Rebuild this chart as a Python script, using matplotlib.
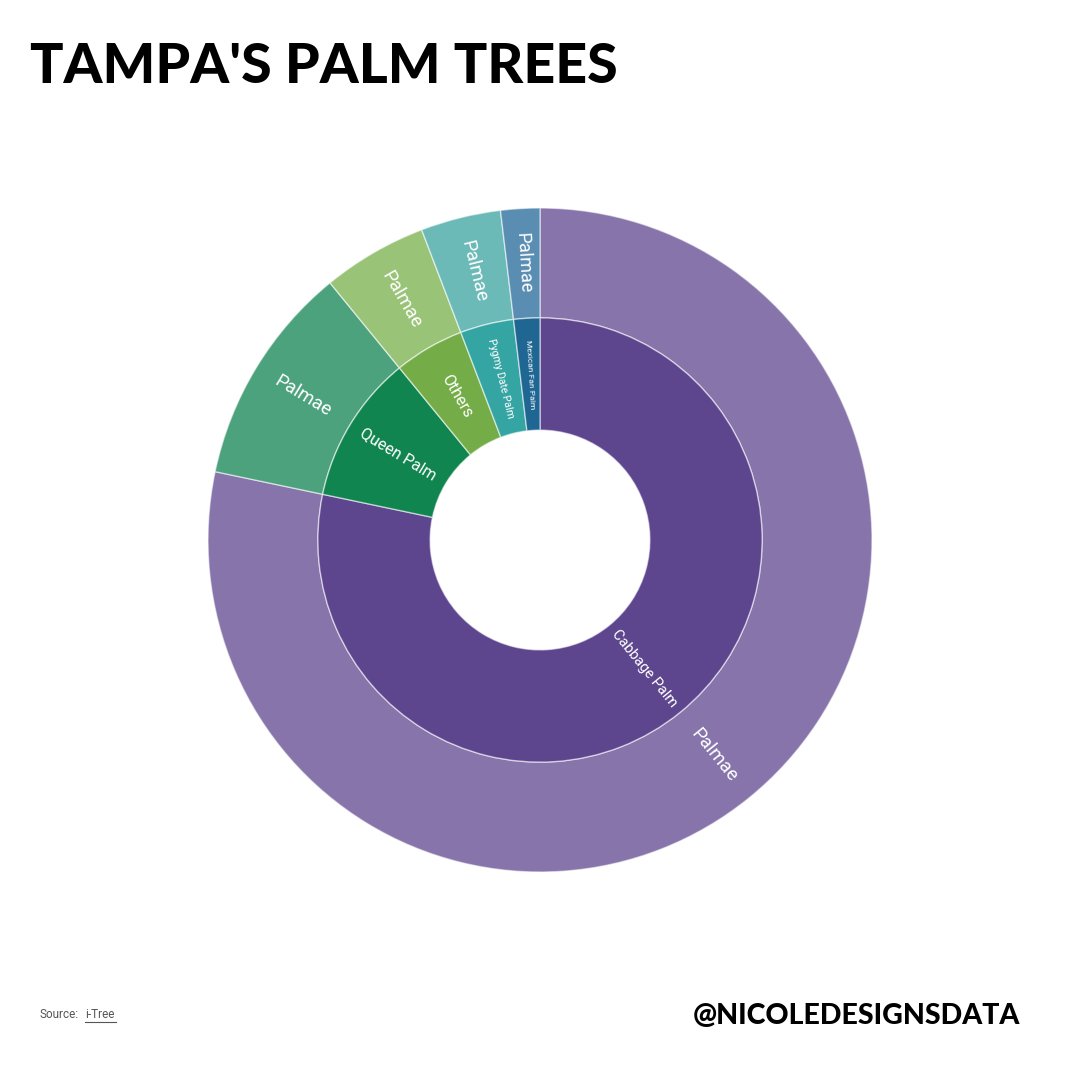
import numpy as np
import matplotlib
matplotlib.use("Agg")
import matplotlib.pyplot as plt

# data (share of palm trees, %)
species = ["Cabbage Palm", "Queen Palm", "Others", "Pygmy Date Palm", "Mexican Fan Palm"]
share = [78.3, 10.8, 5.1, 3.9, 1.9]
family = ["Palmae", "Palmae", "Palmae", "Palmae", "Palmae"]

inner_colors = ["#5e468f", "#10854f", "#74ad47", "#34a5a3", "#1f6692"]
outer_colors = ["#8774ab", "#4ca27c", "#99c377", "#6bbab8", "#5a8db2"]
inner_sizes = [10.5, 11.5, 11.5, 7.5, 6]
outer_sizes = [13.5, 13.5, 13.5, 13.5, 13]

fig = plt.figure(figsize=(10.8, 10.8), dpi=100)
fig.patch.set_facecolor("white")

ax = fig.add_axes([208 / 1080, 208 / 1080, 664 / 1080, 664 / 1080])

r_hole, r_mid, r_out = 0.331, 0.669, 1.0
edge = dict(edgecolor=(1, 1, 1, 0.55), linewidth=1)

ax.pie(share, radius=r_out, colors=outer_colors, startangle=90, counterclock=False,
       wedgeprops=dict(width=r_out - r_mid, **edge))
ax.pie(share, radius=r_mid, colors=inner_colors, startangle=90, counterclock=False,
       wedgeprops=dict(width=r_mid - r_hole, **edge))
ax.set_xlim(-1, 1)
ax.set_ylim(-1, 1)
ax.set_aspect("equal")
ax.axis("off")


def radial_label(text, frac_mid, r, size):
    theta = 90 - frac_mid * 360
    t = np.deg2rad(theta)
    rot = (theta + 180) % 360 - 180
    if rot > 90:
        rot -= 180
    elif rot < -90:
        rot += 180
    ax.text(r * np.cos(t), r * np.sin(t), text, rotation=rot, rotation_mode="anchor",
            ha="center", va="center", color="white", fontsize=size, family="Roboto")


cum = np.cumsum([0] + share)
total = cum[-1]
for i, name in enumerate(species):
    mid = (cum[i] + cum[i + 1]) / 2 / total
    radial_label(name, mid, (r_hole + r_mid) / 2, inner_sizes[i])
    radial_label(family[i], mid, (r_mid + r_out) / 2, outer_sizes[i])

fig.text(30 / 1080, 1 - 67 / 1080, "TAMPA'S PALM TREES", fontsize=40, fontweight="black",
         family=["Lato", "DejaVu Sans"], va="center", ha="left", color="black")

fig.text(40 / 1080, 1 - 1015 / 1080, "Source:", fontsize=8.5, color="#555555",
         family="Roboto", va="center", ha="left")
fig.text(85 / 1080, 1 - 1015 / 1080, "i-Tree", fontsize=8.5, color="#555555",
         family="Roboto", va="center", ha="left")
fig.add_artist(plt.Line2D([85 / 1080, 116 / 1080], [1 - 1022 / 1080] * 2,
                          color="#555555", linewidth=0.8))

fig.text(1020 / 1080, 1 - 1016 / 1080, "@NICOLEDESIGNSDATA", fontsize=20.5, fontweight="black",
         family=["Lato", "DejaVu Sans"], va="center", ha="right", color="black")

fig.savefig("out.png", dpi=100, facecolor="white")
